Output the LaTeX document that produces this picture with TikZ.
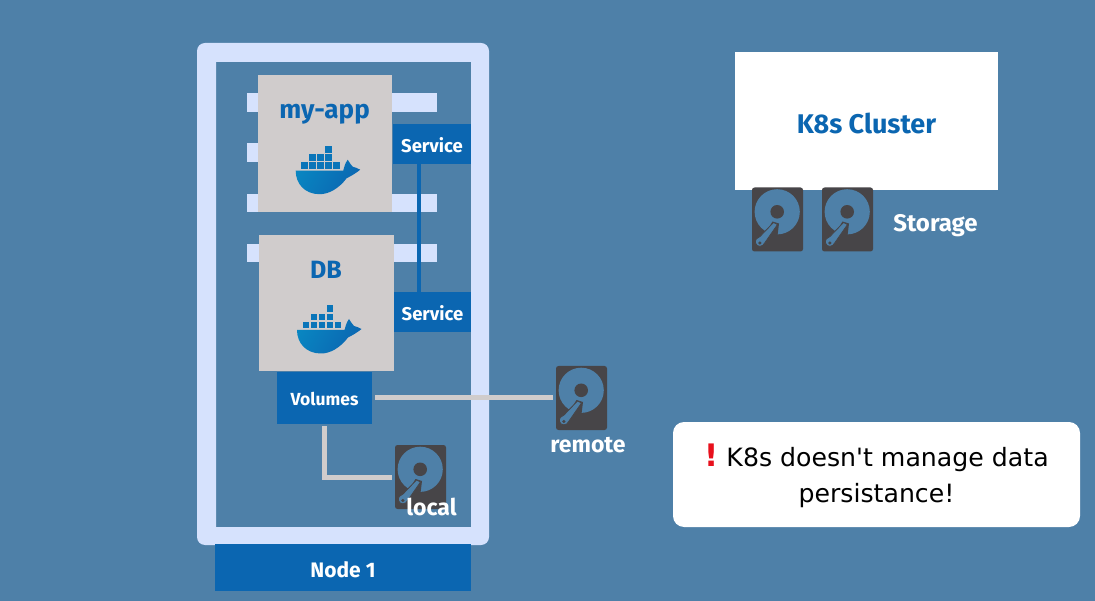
\documentclass[tikz,border=0pt]{standalone}
\usepackage{fontspec}
\setmainfont{Fira Sans}
\newfontfamily\calloutfont{DejaVu Sans}
\definecolor{bgblue}{HTML}{4E80A8}
\definecolor{boxblue}{HTML}{0B66B1}
\definecolor{framelight}{HTML}{D6E2FD}
\definecolor{greybox}{HTML}{D0CCCC}
\definecolor{diskdark}{HTML}{474548}
\definecolor{alertred}{HTML}{E8101C}
\tikzset{
  lab/.style={font=\bfseries\fontsize{#1}{#1}\selectfont},
  box/.style={inner sep=0pt,outer sep=0pt,anchor=north west},
  stripe/.style={fill=framelight},
  bluebox/.style={box,fill=boxblue,text=white},
  container/.style={box,fill=greybox},
  diskbody/.style={box,fill=diskdark,rounded corners=2.5pt,minimum width=51pt,minimum height=64pt},
  greyline/.style={draw=greybox,line width=5pt,shorten <=3pt,shorten >=3pt},
  pics/hdd/.style={code={
    \fill[bgblue] (25.2,24.3) circle (22.6);
    \fill[diskdark] (25.2,24.3) circle (6.8);
    \fill[diskdark] (20.5,34) -- (27,36) -- (25.5,48) -- (12,48) -- cycle;
    \filldraw[fill=bgblue,draw=diskdark,line width=0.8pt] (21.5,35) -- (25.5,37) -- (13,55) .. controls (11,60) and (4.5,60) .. (3.5,55.5) .. controls (3,52) and (5,50) .. (8,49) -- cycle;
    \fill[diskdark] (7.8,55.5) circle (1.7);
  }},
  pics/whale/.style={code={
    \foreach \bx/\by in {29.5/-24.7,
      13.5/-16.4,21.5/-16.4,29.5/-16.4,
      5.5/-8.3,13.5/-8.3,21.5/-8.3,29.5/-8.3,37.5/-8.3}{
      \fill[boxblue!90!cyan] (\bx,\by) rectangle ++(6.8,6.8);
    }
    \shade[left color=boxblue!80!cyan,right color=boxblue,shading angle=60]
      (0,0) -- (47.5,0) .. controls (48.5,-3) and (49,-7) .. (52,-11)
      .. controls (54,-8) and (55,-6) .. (57,-4) .. controls (59,-3.5) and (62,-2.5) .. (64.5,-1)
      .. controls (61,2) and (56,5) .. (51,7.5) .. controls (43,18) and (33,23.5) .. (24,23.5)
      .. controls (9,23.5) and (0,13) .. (0,0) -- cycle;
  }},
}
\newcommand{\low}[2]{\raisebox{-#1pt}[0pt][0pt]{#2}}
\begin{document}
\begin{tikzpicture}[x=1pt,y=-1pt]
\useasboundingbox (0,0) rectangle (1095,601);
\fill[bgblue] (0,0) rectangle (1095,601);

% node frame
\fill[framelight,even odd rule,rounded corners=8pt] (197,43) rectangle (489,545)
  [sharp corners] (216,62) rectangle (471,527);
\node[bluebox,minimum width=256pt,minimum height=47pt,lab=21] (nodeone) at (215,544) {\low{10}{Node 1}};

% stripes behind containers
\fill[stripe] (247,93) rectangle (437,112);
\fill[stripe] (247,143) rectangle (300,162);
\fill[stripe] (247,194) rectangle (437,212);
\fill[stripe] (247,244) rectangle (437,262);

% containers
\node[container,minimum width=134pt,minimum height=137pt] (app) at (258,75) {};
\node[container,minimum width=135pt,minimum height=136pt] (db) at (259,235) {};
\node[text=boxblue,lab=26] (applabel) at (324.5,114) {my-app};
\node[text=boxblue,lab=25] (dblabel) at (326,270) {DB};
\pic at (295.7,170.7) {whale};
\pic at (297,330) {whale};

% services
\node[bluebox,minimum width=78pt,minimum height=40pt,lab=18.5] (svcone) at (393,124) {\low{8.5}{Service}};
\node[bluebox,minimum width=77pt,minimum height=40pt,lab=18.5] (svctwo) at (394,292) {\low{8.5}{Service}};
\draw[boxblue,line width=4.7pt] (svcone.south -| 419,0) -- (svctwo.north -| 419,0);

% volumes
\node[bluebox,minimum width=95pt,minimum height=52pt,lab=17.5] (vol) at (277,372) {\low{8}{Volumes}};

% disks
\node[diskbody] (local) at (395,445) {};
\pic at (395,445) {hdd};
\node[diskbody] (remote) at (556,366) {};
\pic at (556,366) {hdd};
\node[text=white,lab=23] (locallabel) at (431.5,507) {local};
\node[text=white,lab=23] (remotelabel) at (588,445) {remote};

\draw[greyline] (vol.east) -- (remote.west);
\draw[greyline,shorten <=2pt] (vol.south) |- (local.west);

% cluster
\node[box,fill=white,minimum width=263pt,minimum height=138pt,text=boxblue,lab=27] (cluster) at (735,52) {\low{12.5}{K8s Cluster}};
\node[diskbody] (storone) at (752,187.5) {};
\pic at (752,187.5) {hdd};
\node[diskbody] (stortwo) at (822,187.5) {};
\pic at (822,187.5) {hdd};
\node[text=white,lab=24] (storagelabel) at (935.5,226) {Storage};

% callout
\node[box,fill=white,rounded corners=11pt,minimum width=407pt,minimum height=105pt] (callout) at (673,422) {};
\node[align=center,inner sep=0pt,font=\calloutfont\fontsize{25.2}{36}\selectfont] (callouttext) at (876.5,477.5)
  {\smash{\textcolor{alertred}{\fontsize{31}{36}\selectfont\textbf{!}}}\hspace{8pt}K8s doesn't manage data\\persistance!};
\end{tikzpicture}
\end{document}
